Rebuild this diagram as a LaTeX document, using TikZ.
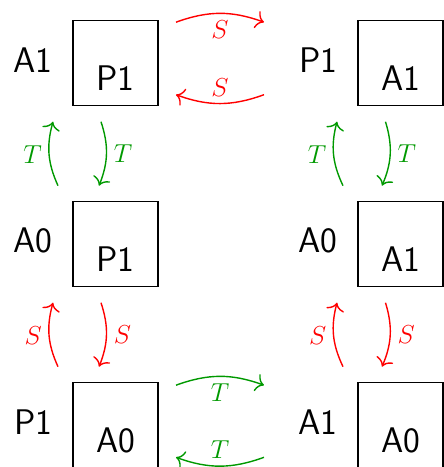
\RequirePackage{fix-cm}
\documentclass[tikz,border=0pt]{standalone}
\usepackage{amsmath}
\usetikzlibrary{arrows.meta, positioning}
\colorlet{tgreen}{green!60!black}

\begin{document}
\begin{tikzpicture}[
    node distance=48pt and 100pt,
    statebox/.style={draw, rectangle, line width=0.7pt, outer sep=0pt, minimum size=42.5pt, text height=27.5pt, text depth=0pt, font=\fontsize{17.8}{20}\sffamily},
    sidelabel/.style={inner sep=0pt, yshift=1.75pt, font=\fontsize{17.8}{20}\sffamily},
    sarrow/.style={red, line width=0.7pt, -{Computer Modern Rightarrow[width=9pt,length=4pt]}},
    tarrow/.style={sarrow, tgreen},
    lbl/.style={font=\fontsize{13}{15}\selectfont}
]
    \useasboundingbox (-57.75pt,31.6pt) rectangle (164.25pt,-201.9pt);

    % Boxes
    \node (a1p1) [statebox] at (0,0) {P1};
    \node (p1a1) [statebox, right=of a1p1] {A1};
    \node (a0p1) [statebox, below=of a1p1] {P1};
    \node (a0a1) [statebox, below=of p1a1] {A1};
    \node (p1a0) [statebox, below=of a0p1] {A0};
    \node (a1a0) [statebox, below=of a0a1] {A0};

    % Side labels
    \node (a1p1lab) [sidelabel, left=10pt of a1p1] {A1};
    \node (p1a1lab) [sidelabel, left=10pt of p1a1] {P1};
    \node (a0p1lab) [sidelabel, left=10pt of a0p1] {A0};
    \node (a0a1lab) [sidelabel, left=10pt of a0a1] {A0};
    \node (p1a0lab) [sidelabel, left=10pt of p1a0] {P1};
    \node (a1a0lab) [sidelabel, left=10pt of a1a0] {A1};

    % S between top boxes
    \draw [sarrow] ([shift={(9pt,-0.75pt)}]a1p1.north east) to[bend left=20] node[below, lbl] {$S$} ([shift={(-47pt,-0.75pt)}]p1a1.north west);
    \draw [sarrow] ([shift={(-47pt,5.5pt)}]p1a1.south west) to[bend left=20] node[above, lbl] {$S$} ([shift={(9pt,5.5pt)}]a1p1.south east);

    % T between bottom boxes
    \draw [tarrow] ([shift={(9pt,-1.25pt)}]p1a0.north east) to[bend left=20] node[below, lbl] {$T$} ([shift={(-47pt,-1.25pt)}]a1a0.north west);
    \draw [tarrow] ([shift={(-47pt,5.2pt)}]a1a0.south west) to[bend left=20] node[above, lbl] {$T$} ([shift={(9pt,5.2pt)}]p1a0.south east);

    % T between top and middle rows
    \draw [tarrow] ([shift={(-7.5pt,8pt)}]a0p1.north west) to[bend left=20] node[left, lbl] {$T$} ([shift={(-10pt,-8pt)}]a1p1.south west);
    \draw [tarrow] ([shift={(14pt,-8pt)}]a1p1.south west) to[bend left=20] node[right, lbl] {$T$} ([shift={(13pt,8pt)}]a0p1.north west);
    \draw [tarrow] ([shift={(-7.5pt,8pt)}]a0a1.north west) to[bend left=20] node[left, lbl] {$T$} ([shift={(-10.5pt,-8pt)}]p1a1.south west);
    \draw [tarrow] ([shift={(13.75pt,-8pt)}]p1a1.south west) to[bend left=20] node[right, lbl] {$T$} ([shift={(12pt,8pt)}]a0a1.north west);

    % S between middle and bottom rows
    \draw [sarrow] ([shift={(-7.5pt,8pt)}]p1a0.north west) to[bend left=20] node[left, lbl] {$S$} ([shift={(-10pt,-8pt)}]a0p1.south west);
    \draw [sarrow] ([shift={(14pt,-8pt)}]a0p1.south west) to[bend left=20] node[right, lbl] {$S$} ([shift={(13pt,8pt)}]p1a0.north west);
    \draw [sarrow] ([shift={(-7.5pt,8pt)}]a1a0.north west) to[bend left=20] node[left, lbl] {$S$} ([shift={(-10.5pt,-8pt)}]a0a1.south west);
    \draw [sarrow] ([shift={(13.75pt,-8pt)}]a0a1.south west) to[bend left=20] node[right, lbl] {$S$} ([shift={(12pt,8pt)}]a1a0.north west);
\end{tikzpicture}
\end{document}
